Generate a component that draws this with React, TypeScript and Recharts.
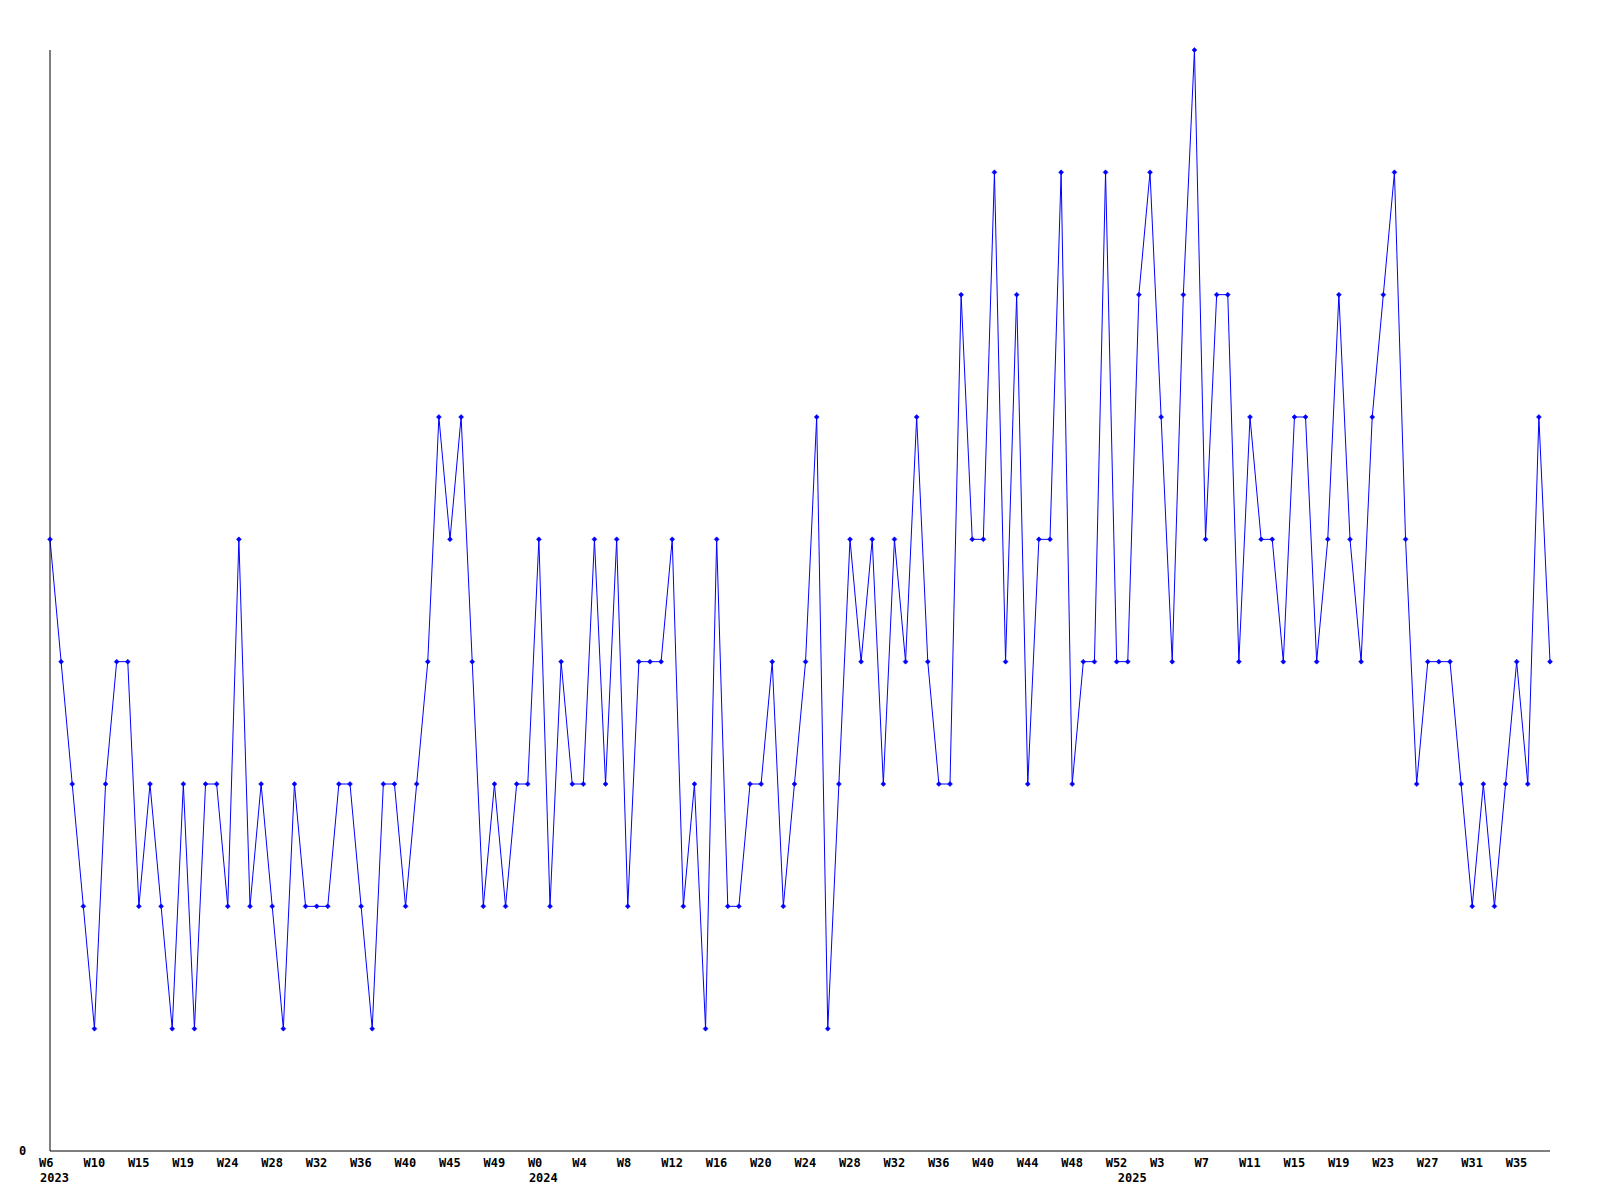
import React from 'react';
import { LineChart, Line, XAxis, YAxis } from 'recharts';

const values = [
  5, 4, 3, 2, 1, 3, 4, 4, 2, 3,
  2, 1, 3, 1, 3, 3, 2, 5, 2, 3,
  2, 1, 3, 2, 2, 2, 3, 3, 2, 1,
  3, 3, 2, 3, 4, 6, 5, 6, 4, 2,
  3, 2, 3, 3, 5, 2, 4, 3, 3, 5,
  3, 5, 2, 4, 4, 4, 5, 2, 3, 1,
  5, 2, 2, 3, 3, 4, 2, 3, 4, 6,
  1, 3, 5, 4, 5, 3, 5, 4, 6, 4,
  3, 3, 7, 5, 5, 8, 4, 7, 3, 5,
  5, 8, 3, 4, 4, 8, 4, 4, 7, 8,
  6, 4, 7, 9, 5, 7, 7, 4, 6, 5,
  5, 4, 6, 6, 4, 5, 7, 5, 4, 6,
  7, 8, 5, 3, 4, 4, 4, 3, 2, 3,
  2, 3, 4, 3, 6, 4,
];

const tickLabels = [
  'W6', 'W10', 'W15', 'W19', 'W24', 'W28', 'W32', 'W36', 'W40', 'W45', 'W49',
  'W0', 'W4', 'W8', 'W12', 'W16', 'W20', 'W24', 'W28', 'W32', 'W36', 'W40', 'W44', 'W48', 'W52',
  'W3', 'W7', 'W11', 'W15', 'W19', 'W23', 'W27', 'W31', 'W35',
];
const tickStep = 4;
const yearIndexes = [0, 44, 97];
const yearLabels = ['2023', '2024', '2025'];
const yTicks = [0];
const yMax = 9;

const data = values.map((v, i) => ({ idx: i, value: v }));
const tickPositions = tickLabels.map((_, k) => k * tickStep);
const allTicks = Array.from(new Set([...tickPositions, ...yearIndexes])).sort((a, b) => a - b);

const FONT = '"DejaVu Sans Mono", monospace';

const XTick = (props: any) => {
  const { x, y, payload } = props;
  const i = payload.value;
  const k = tickPositions.indexOf(i);
  const yk = yearIndexes.indexOf(i);
  return (
    <g>
      {k >= 0 && (
        <text x={x - 11} y={y + 11.5} textAnchor="start" dominantBaseline="central"
          fontFamily={FONT} fontWeight="bold" fontSize={12} fill="#000">{tickLabels[k]}</text>
      )}
      {yk >= 0 && (
        <text x={x - 10} y={y + 26.5} textAnchor="start" dominantBaseline="central"
          fontFamily={FONT} fontWeight="bold" fontSize={12} fill="#000">{yearLabels[yk]}</text>
      )}
    </g>
  );
};

const YTick = (props: any) => {
  const { y, payload } = props;
  return (
    <text x={14.6} y={y} textAnchor="middle" dominantBaseline="central"
      fontFamily={FONT} fontWeight="bold" fontSize={12} fill="#000">{String(payload.value)}</text>
  );
};

const Diamond = (props: any) => {
  const { cx, cy } = props;
  if (cx == null || cy == null) return null;
  const r = 2.5;
  return (
    <polygon points={`${cx},${cy - r} ${cx + r},${cy} ${cx},${cy + r} ${cx - r},${cy}`} fill="#0000ff" stroke="#0000ff" strokeWidth={0.5} />
  );
};

export default function App() {
  return (
    <LineChart width={1600} height={1200} data={data} margin={{ top: 42, right: 58, bottom: 0, left: 0 }}>
      <XAxis dataKey="idx" type="number" domain={[0, values.length - 1]} ticks={allTicks}
        tick={<XTick />} tickLine={false} tickSize={0} tickMargin={0} height={57}
        axisLine={{ stroke: '#000', strokeWidth: 1 }} interval={0} allowDecimals={false} />
      <YAxis type="number" domain={[0, yMax]} ticks={yTicks} tick={<YTick />} tickLine={false}
        tickSize={0} tickMargin={0} width={42} axisLine={{ stroke: '#000', strokeWidth: 1 }} />
      <Line type="linear" dataKey="value" stroke="#0000ff" strokeWidth={1} dot={<Diamond />}
        activeDot={false} isAnimationActive={false} />
    </LineChart>
  );
}
